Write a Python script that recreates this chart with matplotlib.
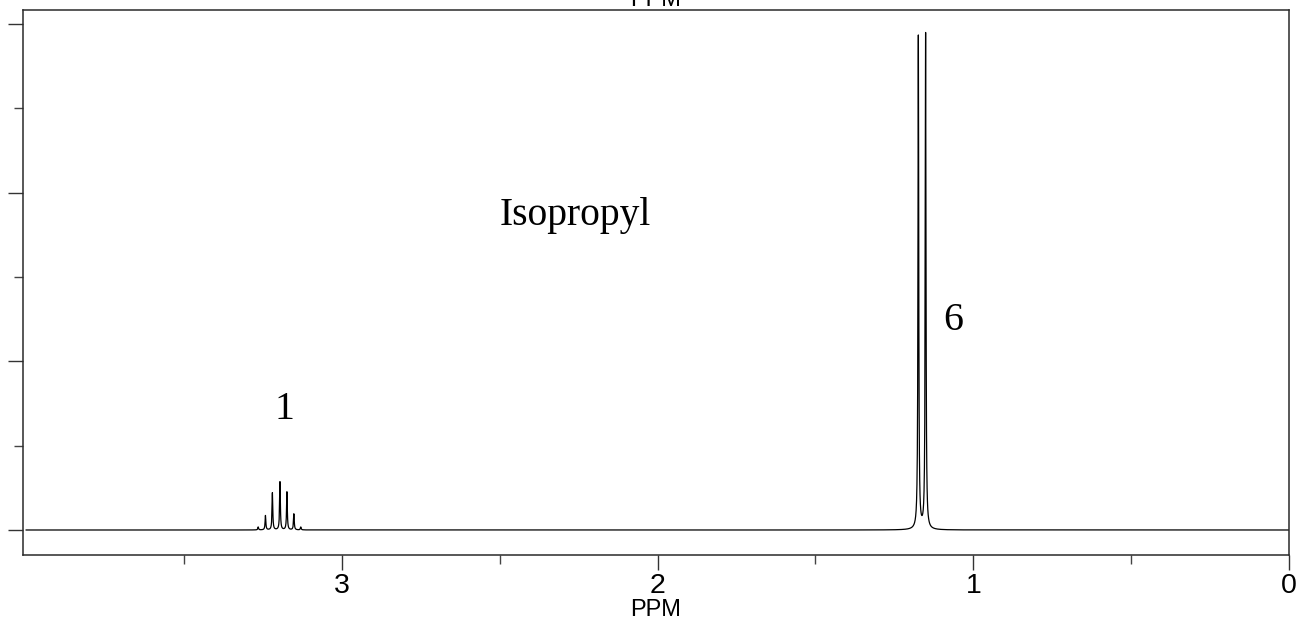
import numpy as np
import matplotlib
matplotlib.use("Agg")
import matplotlib.pyplot as plt
from matplotlib.ticker import MultipleLocator, FixedLocator

# ---- data: peak lists (ppm, intensity) ----
septet_ppm = [3.265, 3.242, 3.220, 3.196, 3.174, 3.152, 3.130]
septet_height = [0.035, 0.17, 0.44, 0.57, 0.45, 0.19, 0.035]
doublet_ppm = [1.174, 1.151]
doublet_height = [5.85, 5.88]
linewidth_ppm = 0.0014  # Lorentzian half width

x_major_ticks = [0, 1, 2, 3]
x_minor_ticks = [0.5, 1.5, 2.5, 3.5]
x_tick_labels = ["0", "1", "2", "3"]
annotations = [("Isopropyl", 2.262, 3.73), ("6", 1.064, 2.49), ("1", 3.183, 1.43)]

peak_ppm = np.array(septet_ppm + doublet_ppm)
peak_height = np.array(septet_height + doublet_height)

ppm = np.linspace(0.0, 4.0, 80001)
g2 = linewidth_ppm ** 2
spectrum = np.zeros_like(ppm)
for p, h in zip(peak_ppm, peak_height):
    spectrum += h * g2 / (g2 + (ppm - p) ** 2)

W, H = 1300, 626
fig = plt.figure(figsize=(W / 100, H / 100), dpi=100)
ax = fig.add_axes([23 / W, 1 - 555 / H, (1289 - 23) / W, (555 - 10) / H])

ax.plot(ppm, spectrum, color="black", lw=0.9)
ax.set_xlim(4.01, 0)
ax.set_ylim(-0.2966, 6.168)

sans = ["Liberation Sans", "DejaVu Sans"]
serif = ["Liberation Serif", "DejaVu Serif"]

ax.set_xticks(x_major_ticks)
ax.set_xticklabels(x_tick_labels, fontsize=20.5, family=sans)
ax.xaxis.set_minor_locator(FixedLocator(x_minor_ticks))
ax.yaxis.set_major_locator(MultipleLocator(2))
ax.yaxis.set_minor_locator(MultipleLocator(1))
ax.set_yticklabels([])
ax.tick_params(axis="both", which="major", direction="out", length=10.8, width=1.0,
               color="#333333", pad=2)
ax.tick_params(axis="both", which="minor", direction="out", length=6.5, width=1.0,
               color="#444444")
for s in ax.spines.values():
    s.set_color("#2a2a2a")
    s.set_linewidth(1.1)

ax.set_xlabel("PPM", fontsize=17, family=sans, labelpad=0)

for txt, xx, yy in annotations:
    ax.text(xx, yy, txt, fontsize=28.5, family=serif, ha="center", va="center")

# top "PPM" label, partly cut off by the figure edge (as in the reference)
fig.text(656 / W, 1 - 6 / H, "PPM", fontsize=17, family=sans, ha="center", va="baseline")

fig.savefig("out.png", dpi=100)
